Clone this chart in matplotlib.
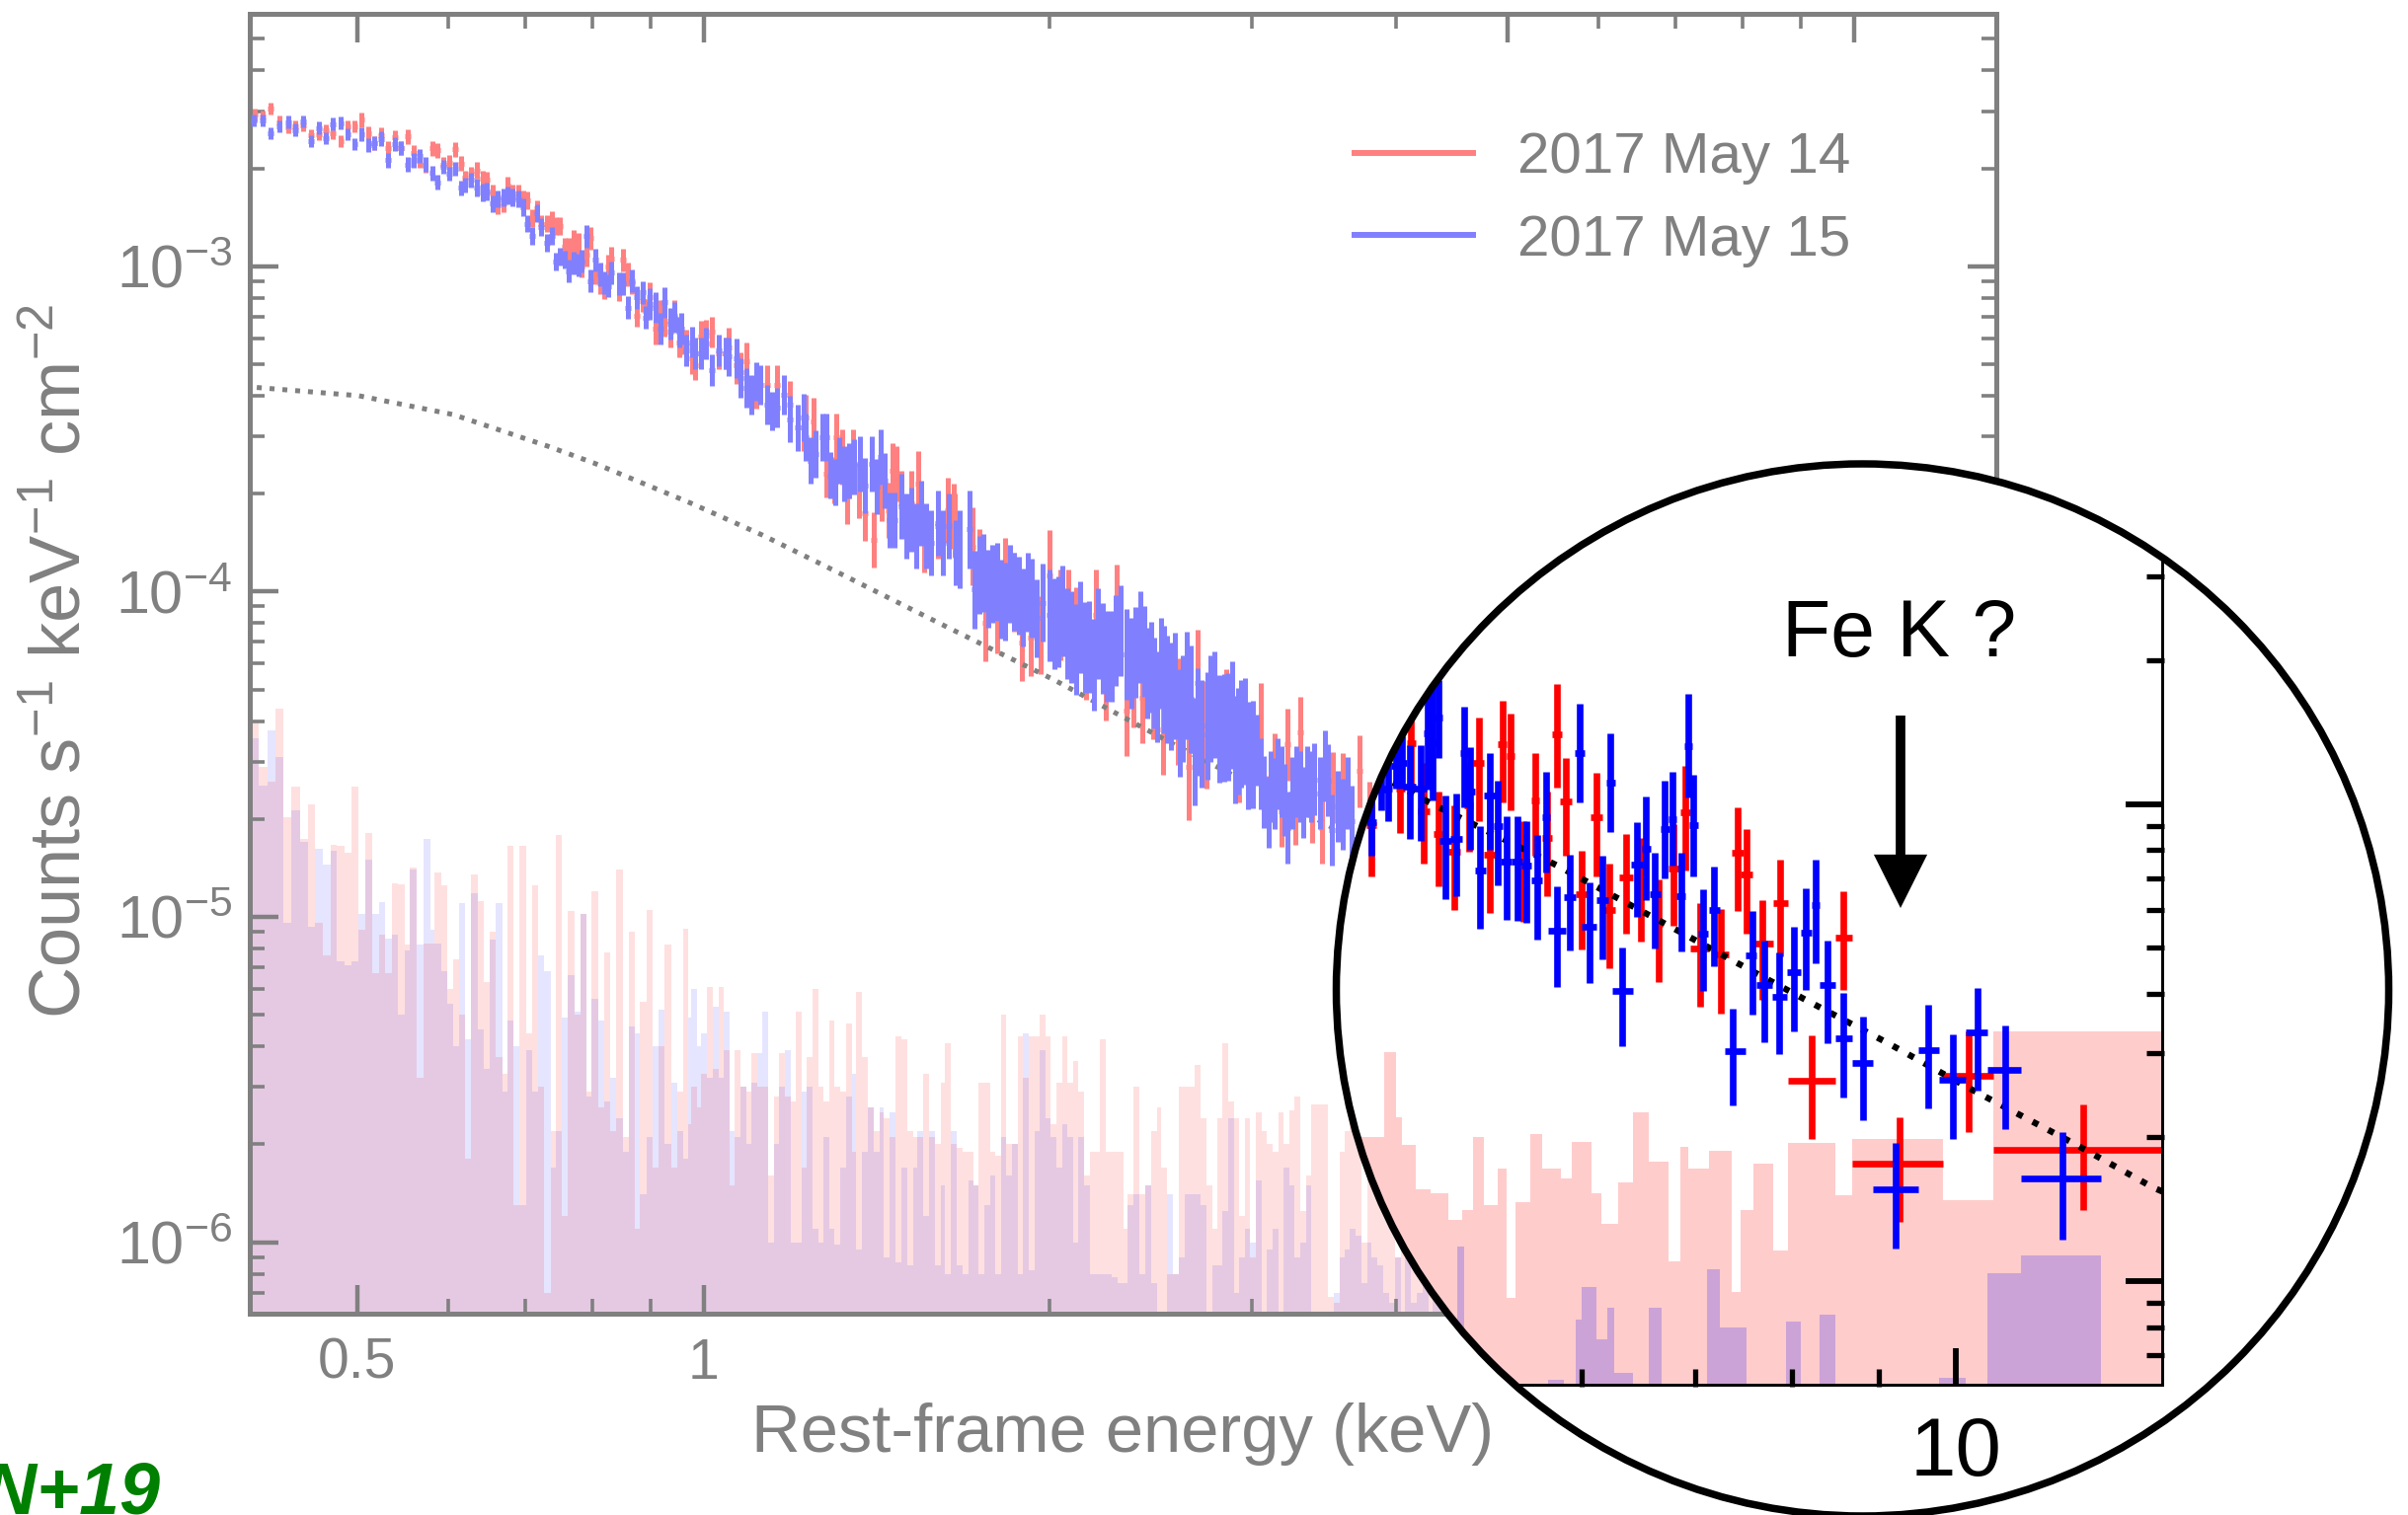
import numpy as np
import matplotlib
matplotlib.use("Agg")
import matplotlib.pyplot as plt
from matplotlib.patches import Circle
from matplotlib.ticker import NullFormatter

plt.rcParams['font.family'] = ['Liberation Sans', 'DejaVu Sans']
plt.rcParams['mathtext.fontset'] = 'custom'
plt.rcParams['mathtext.rm'] = 'Liberation Sans'
plt.rcParams['mathtext.it'] = 'Liberation Sans:italic'
plt.rcParams['mathtext.default'] = 'regular'

# ---------- main spectrum, log10(keV) and log10(counts/s/keV/cm2) ----------
red_log_e = [-.390,-.383,-.376,-.369,-.361,-.355,-.348,-.341,-.334,-.328,-.322,-.315,-.309,-.303,-.297,-.291,-.286,-.280,-.274,-.268,-.263,-.257,-.252,-.247,-.242,-.236,-.231,-.226,-.221,-.216,-.211,-.207,-.202,-.197,-.192,-.188,-.183,-.179,-.174,-.170,-.166,-.161,-.157,-.153,-.149,-.145,-.141,-.136,-.132,-.128,-.125,-.121,-.117,-.113,-.109,-.106,-.102,-.098,-.094,-.090,-.086,-.083,-.080,-.073,-.070,-.066,-.062,-.058,-.053,-.050,-.047,-.042,-.037,-.034,-.029,-.025,-.021,-.019,-.015,-.010,-.007,-.002,.002,.007,.013,.019,.022,.029,.032,.037,.046,.055,.064,.075,.087,
 .089,.0953,.1068,.1134,.1154,.1205,.1248,.1297,.1348,.1406,.1477,.1549,.1606,.1640,.1677,.172,.1806,.1863,.1921,.2035,.2127,.2178,
 .2184,.2338,.2395,.2453,.2549,.2625,.2702,.2767,.2844,.2932,.3008,.3104,.3169,.3238,.3323,.3411,.3499,.3591,.3679,.3737,.3813,.3909,.3997,.4120,.4216,.4293,.4369,.4542,.4657,.4841,.4917,.4963,.5021,.5078,.5147,.5186,.5289,.5373,.5469,.5558,.5703,.5787]
red_log_f = [-2.535,-2.540,-2.515,-2.557,-2.573,-2.570,-2.567,-2.598,-2.594,-2.583,-2.591,-2.616,-2.570,-2.570,-2.550,-2.591,-2.621,-2.596,-2.636,-2.604,-2.636,-2.601,-2.651,-2.676,-2.692,-2.638,-2.644,-2.687,-2.681,-2.641,-2.684,-2.727,-2.717,-2.705,-2.732,-2.735,-2.777,-2.813,-2.808,-2.752,-2.777,-2.777,-2.793,-2.798,-2.853,-2.823,-2.869,-2.869,-2.858,-2.877,-2.877,-2.939,-2.949,-2.924,-2.934,-3.000,-2.965,-2.914,-3.020,-3.051,-3.066,-3.000,-2.975,-3.071,-2.980,-3.025,-3.051,-3.152,-3.106,-3.136,-3.096,-3.192,-3.152,-3.167,-3.202,-3.152,-3.233,-3.222,-3.243,-3.283,-3.303,-3.217,-3.212,-3.202,-3.268,-3.268,-3.248,-3.303,-3.324,-3.293,-3.379,-3.364,-3.364,-3.425,-3.496,
 -3.466,-3.476,-3.638,-3.658,-3.526,-3.587,-3.708,-3.587,-3.688,-3.759,-3.840,-3.698,-3.749,-3.628,-3.638,-3.729,-3.729,-3.668,-3.840,-3.800,-3.749,-3.769,
 -3.797,-3.861,-3.927,-4.095,-4.071,-3.954,-4.002,-4.156,-4.140,-4.135,-3.951,-4.071,-4.073,-4.126,-4.193,-4.073,-4.257,-4.057,-4.366,-4.279,-4.326,-4.313,-4.424,-4.369,-4.539,-4.281,-4.440,-4.403,-4.483,-4.392,-4.675,-4.545,-4.675,-4.470,-4.669,-4.433,-4.662,-4.726,-4.603,-4.605,-4.552,-4.694]

blue_log_e = [-.391,-.383,-.376,-.369,-.361,-.355,-.348,-.341,-.334,-.328,-.322,-.315,-.309,-.303,-.297,-.291,-.286,-.280,-.274,-.268,-.263,-.257,-.252,-.247,-.242,-.236,-.231,-.226,-.221,-.216,-.211,-.207,-.202,-.197,-.192,-.188,-.183,-.179,-.174,-.170,-.166,-.161,-.157,-.153,-.149,-.145,-.141,-.136,-.132,-.128,-.125,-.121,-.117,-.113,-.109,-.106,-.102,-.098,-.094,-.090,-.086,-.083,-.080,-.073,-.070,-.066,-.062,-.058,-.053,-.050,-.047,-.042,-.037,-.034,-.029,-.025,-.021,-.019,-.015,-.010,-.007,-.002,.002,.007,.013,.019,.022,.029,.032,.037,.042,.046,.049,.055,.060,.064,.070,.075,.082,.087,
 .089,.0933,.0976,.1033,.1068,.1105,.1148,.1177,.122,.1262,.1305,.1363,.1406,.1463,.1506,.1543,.1577,.162,.1663,.172,.1763,.1806,.1849,.1892,.1935,.1978,.2035,.2078,.2135,.2193,
 .2223,.2311,.2357,.2434,.2510,.2587,.2663,.2740,.2817,.2893,.2951,.3008,.3085,.3162,.3238,.3315,.3392,.3468,.3545,.3622,.3679,.3756,.3832,.3890,.3947,.4005,.4063,.4139,.4197,.4266,.4331,.4381,.4438,.4484,.4561,.4618,.4676,.4733,.4810,.4867,.4914,.4963,.5021,.5078,.5155,.5212,.5251,.5308,.5404,.5461,.5558,.5634,
 .2395,.2472,.2549,.2625,.2702,.2778,.2855,.3047,.3123,.3200,.3277,.3353,.3430,.3507,.3583,.3717,.3794,.3859,.3920,.3978,.4032,.4101,.4166,.4235,.4293,.4408,.4523,.4592,.4649,.4707,.4772,.4841,.4933,.4990,.5048,.5117,.5186,.5282,.5358,.5431,.5511,.5596]
blue_log_f = [-2.552,-2.552,-2.591,-2.570,-2.557,-2.581,-2.555,-2.616,-2.575,-2.606,-2.563,-2.560,-2.594,-2.624,-2.594,-2.628,-2.621,-2.608,-2.674,-2.624,-2.636,-2.687,-2.674,-2.661,-2.687,-2.714,-2.742,-2.694,-2.715,-2.701,-2.759,-2.750,-2.735,-2.759,-2.773,-2.769,-2.808,-2.793,-2.788,-2.783,-2.788,-2.793,-2.818,-2.869,-2.907,-2.838,-2.879,-2.927,-2.907,-2.985,-2.970,-2.980,-3.015,-2.990,-2.995,-2.985,-2.907,-3.046,-2.980,-3.025,-3.051,-3.061,-3.020,-3.053,-3.053,-3.127,-3.046,-3.096,-3.081,-3.157,-3.116,-3.127,-3.192,-3.111,-3.177,-3.157,-3.202,-3.192,-3.258,-3.233,-3.268,-3.268,-3.238,-3.319,-3.258,-3.268,-3.278,-3.283,-3.344,-3.374,-3.395,-3.354,-3.364,-3.425,-3.445,-3.435,-3.395,-3.470,-3.496,-3.465,
 -3.526,-3.597,-3.577,-3.526,-3.526,-3.643,-3.663,-3.597,-3.638,-3.628,-3.618,-3.607,-3.673,-3.607,-3.678,-3.587,-3.658,-3.779,-3.779,-3.739,-3.800,-3.779,-3.830,-3.759,-3.830,-3.850,-3.789,-3.850,-3.800,-3.880,
 -3.871,-3.808,-3.994,-3.943,-3.975,-4.023,-3.975,-4.012,-4.002,-4.082,-4.034,-4.073,-4.092,-4.130,-4.177,-4.172,-4.225,-4.174,-4.199,-4.121,-4.193,-4.188,-4.183,-4.233,-4.323,-4.270,-4.323,-4.403,-4.289,-4.491,-4.438,-4.412,-4.348,-4.422,-4.417,-4.486,-4.438,-4.504,-4.488,-4.616,-4.678,-4.621,-4.584,-4.726,-4.584,-4.648,-4.584,-4.577,-4.536,-4.733,-4.685,-4.706,
 -3.95,-3.99,-3.97,-4.03,-4.00,-4.05,-4.02,-4.10,-4.06,-4.14,-4.11,-4.17,-4.13,-4.20,-4.15,-4.22,-4.14,-4.25,-4.28,-4.22,-4.30,-4.29,-4.36,-4.33,-4.40,-4.36,-4.42,-4.38,-4.46,-4.43,-4.50,-4.56,-4.60,-4.56,-4.64,-4.62,-4.60,-4.60,-4.62,-4.58,-4.66,-4.62]

# half length of the error bars (dex), by log10(energy) band
err_band_upper = [-.30,-.20,-.12,-.05,.02,.07,.12,.17,.22,.30,.40,.48,.70]
err_band_dex = [.019,.022,.027,.035,.048,.060,.072,.085,.100,.120,.140,.165,.110]

# ---------- model curve ----------
model_kev = [.409,.5015,.606,.732,.804,.975,1.126,1.293,1.633,2.018,2.58,3.04,3.41,4.89,5.8,6.76,7.42,8.13,9.12,10.2,11.73,13.1,13.5]
model_rate = [4.24e-4,4.0e-4,3.5e-4,2.8e-4,2.48e-4,1.87e-4,1.49e-4,1.17e-4,7.74e-5,5.35e-5,3.35e-5,2.48e-5,2.0e-5,1.0e-5,7.43e-6,5.55e-6,4.64e-6,3.9e-6,3.15e-6,2.53e-6,1.95e-6,1.57e-6,1.5e-6]

# ---------- main backgrounds: log10(keV) bin edges, rate in 1e-6 ----------
bg_log_edges = [-.393,-.387,-.379,-.372,-.365,-.358,-.351,-.344,-.338,-.331,-.324,-.319,-.312,-.306,-.300,-.294,-.288,-.282,-.277,-.271,-.266,-.260,-.255,-.249,-.243,-.237,-.234,
 -.228,-.223,-.218,-.212,-.207,-.202,-.196,-.191,-.186,-.181,-.175,-.170,-.165,-.160,-.154,-.149,-.144,-.139,-.133,-.128,-.123,-.118,-.112,-.107,-.102,-.097,-.091,-.086,-.081,-.076,-.070,-.065,-.060,-.055,-.049,-.044,-.039,-.034,-.028,-.023,-.018,-.013,
 -.011,-.006,-.002,.003,.008,.013,.018,.023,.027,.032,.037,.042,.047,.051,.056,.061,.066,.071,.076,.080,.085,.090,.095,.100,.104,.109,.114,.119,.124,.129,.133,.138,.143,.148,.153,.157,.162,.167,.172,.177,.182,.186,.191,.196,.201,.206,.210,.215,.220,.225,.230,.235,.239,.244,.249,.254,.259,.263,.268,.273,.278,.283,.288,.292,.297,.302,.307,.312,.316,.321,.326,.331,.336,.341,.345,.350,.355,.360,.365,.369,.374,.379,.384,.389,.394,.398,.403,.408,.413,.418,.422,.427,.432,.437,.442,.447,.451,.456,.461,.466,.471,.475,.480,.485,.490,.495,.500,.504,.509,.514,.519,.524,.528,.533,.538,.543,.548,.553,.557,.562,.567,.572,.577,.581,.586,.591,.596,.601,.606,.610,.615,.620,.625,.630,.634,.639,.644,.649]
bg_red = [39.6,28.9,26,43.7,20.3,25.1,17.4,22.2,9.6,7.6,16.6,16.5,15.7,25.2,9.1,18.1,6.7,8.8,6.7,12.7,12.6,8.2,14.2,3.2,8.3,8.3,13.7,
 12.5,6.0,7.4,5.0,1.8,13.5,11.2,6.3,9.0,3.7,3.3,16.5,1.3,16.5,4.4,12.5,3.0,.7,2.2,17.8,1.2,10.4,5.0,10.2,2.9,12.0,2.6,7.8,2.2,14.0,2.1,9.0,1.1,5.5,10.5,1.7,4.0,8.2,1.7,2.9,9.2,2.3,
 3.0,2.6,3.3,6.1,3.4,6.1,3.9,1.5,3.9,3.0,2.9,3.8,3.0,3.0,1.6,2.8,3.8,2.8,2.7,5.1,1.7,3.7,6.0,3.0,2.7,4.8,3.0,2.9,4.7,1.9,5.9,3.7,2.6,2.2,2.5,2.4,2.1,4.3,
 4.2,2.2,2.1,2.1,3.3,2.1,2.0,3.1,4.1,2.0,1.95,1.9,1.9,1.5,3.1,3.1,1.9,1.85,5.0,2.0,2.0,4.3,3.2,4.3,4.3,5.0,4.3,2.3,3.1,4.3,3.1,3.6,2.9,1.6,1.9,1.9,4.2,1.9,1.9,1.9,1.1,1.4,3.0,1.4,1.5,2.2,2.6,1.7,.8,.8,3.0,3.0,3.0,3.5,2.4,1.5,1.1,2.4,4.1,2.7,2.4,1.2,2.4,.9,2.5,2.2,2.0,1.9,2.5,2.0,2.55,2.8,1.25,1.6,2.65,2.65,2.65,.68,.65,1.9,2.2,3.0,
 3.0,1.0,2.7,1.7,2.6,2.4,1.4,.9,1.6,1.0,.9,2.0,1.1,.8,1.7,1.3,1.0]
bg_blue = [35.4,25.4,37.5,31.1,9.6,21.3,17,9.3,16.2,14.5,16,7.3,7.1,7.3,10.2,15,10.2,11.1,8.6,8.8,5,7.9,14,8.2,17.4,9.1,8.3,
 6.8,5.4,4.0,11,4.2,11.8,4.5,3.4,8.5,11,2.9,4.8,4.0,1.3,3.9,2.9,7.6,6.8,1.7,2.2,4.9,6.6,5.1,10.2,2.8,5.6,4.8,2.7,3.2,2.4,1.9,4.6,4.4,1.4,2.1,4.0,5.2,2.0,3.1,2.2,1.8,4.9,
 6.0,4.0,4.4,3.2,5.3,3.2,5.1,2.2,2.1,3.0,2.0,3.1,3.8,5.1,1.0,2.0,3.0,3.9,1.0,1.0,2.9,3.0,1.1,1.0,2.1,1.1,.98,1.7,2.8,3.3,.95,1.9,2.6,1.9,2.6,.9,2.5,.87,
 1.7,.85,1.7,2.2,1.2,2.2,.85,1.5,.8,2.2,.85,.8,1.55,1.5,.8,1.3,1.6,.8,2.1,1.6,2.0,.8,4.4,.82,2.2,3.9,2.4,2.1,1.7,2.3,2.1,1.0,2.1,1.5,.8,.8,.8,.8,.78,.75,.75,1.3,1.4,.8,1.5,.75,.5,.6,1.4,.8,.9,1.4,1.4,1.4,1.3,.3,.85,.85,1.25,2.4,.7,.9,1.1,1.0,1.55,.5,.95,1.1,.55,1.7,1.5,.9,1.0,1.5,.5,.55,.5,.45,.7,.9,.95,1.1,
 1.05,.75,1.0,.9,.85,.7,.65,.9,.6,.9,.65,.7,.8,.6,.7,.7,.6]

# ---------- inset points: keV, rate / upper / lower in 1e-6 ----------
ins_red_kev = [4.50,4.68,4.75,4.83,4.93,5.04,5.14,5.21,5.29,5.38,5.44,5.54,5.63,5.72,5.80,5.87,6.00,6.12,6.23,6.37,6.50,6.66,6.80,6.91,7.05,7.25,7.42,7.51,7.68,7.87,8.21,8.58,9.26,10.18,11.9]
ins_red_lo_kev = [4.47,4.65,4.72,4.79,4.90,5.00,5.11,5.17,5.25,5.35,5.41,5.50,5.60,5.68,5.76,5.82,5.95,6.07,6.18,6.31,6.45,6.62,6.75,6.86,6.96,7.17,7.36,7.45,7.57,7.79,7.95,8.49,8.68,9.83,10.53]
ins_red_hi_kev = [4.53,4.71,4.78,4.87,4.96,5.08,5.17,5.25,5.33,5.41,5.47,5.58,5.66,5.76,5.84,5.92,6.05,6.17,6.28,6.43,6.55,6.70,6.85,6.96,7.14,7.33,7.48,7.57,7.79,7.95,8.49,8.68,9.83,10.53,14.0]
ins_red_rate = [9.02,10.8,13.4,9.66,8.67,7.94,9.92,12.2,7.84,13.35,12.6,7.57,10.2,8.49,14,10.15,6.48,9.37,6.01,7.02,6.67,5.6,7.34,9.61,4.98,4.84,7.92,7.11,5.09,6.20,2.63,5.25,1.76,2.69,1.88]
ins_red_up = [11.3,13.2,15,12.2,10.6,9.92,12.2,15.2,10.4,16.5,15.5,9.2,12.8,10.6,17.9,12.5,7.98,11.65,7.5,8.67,8.49,6.94,9.09,12,6.19,6.03,9.84,8.85,6.30,7.64,3.27,6.55,2.20,3.34,2.34]
ins_red_dn = [7.05,8.71,10.6,7.5,6.71,6.01,7.94,9.2,5.9,10.1,9.7,5.65,7.81,6.41,10.85,7.78,4.96,7.05,4.52,5.35,5.15,4.23,5.55,7.24,3.76,3.63,5.97,5.34,3.88,4.80,1.98,4.08,1.33,2.05,1.41]

ins_blue_kev = [4.50,4.56,4.60,4.65,4.69,4.74,4.81,4.86,4.89,4.93,4.98,5.05,5.11,5.15,5.22,5.29,5.35,5.41,5.49,5.56,5.64,5.71,5.80,5.90,5.98,6.06,6.17,6.24,6.34,6.47,6.55,6.63,6.72,6.79,6.87,6.94,6.99,7.08,7.19,7.37,7.57,7.70,7.86,8.02,8.15,8.26,8.39,8.58,8.81,9.21,9.63,9.96,10.3,10.7,11.57]
ins_blue_lo_kev = [4.47,4.53,4.57,4.62,4.66,4.70,4.77,4.83,4.86,4.90,4.94,5.01,5.08,5.12,5.18,5.25,5.32,5.37,5.45,5.52,5.60,5.68,5.73,5.85,5.94,6.00,6.12,6.20,6.25,6.42,6.51,6.58,6.68,6.75,6.83,6.90,6.95,7.03,7.14,7.29,7.50,7.62,7.78,7.94,8.09,8.21,8.30,8.48,8.68,8.93,9.50,9.77,10.14,10.45,10.94]
ins_blue_hi_kev = [4.53,4.59,4.63,4.68,4.72,4.78,4.85,4.89,4.92,4.96,5.02,5.09,5.14,5.18,5.26,5.33,5.38,5.45,5.53,5.60,5.68,5.74,5.87,5.95,6.02,6.12,6.22,6.28,6.43,6.52,6.59,6.68,6.76,6.83,6.91,6.98,7.03,7.13,7.24,7.50,7.62,7.78,7.94,8.09,8.21,8.30,8.48,8.68,8.93,9.50,9.77,10.14,10.45,10.94,12.2]
ins_blue_rate = [9.16,10.7,10.8,12,12.2,10.9,10.8,14.1,13.4,15.2,8.36,8.46,12.8,10.6,7.24,10.4,9,7.57,7.57,7.43,6.92,9.39,5.42,6.39,12.8,5.53,6.28,11.1,4.05,7.48,8.06,6.46,8.88,9.31,6.41,13.2,9.02,5.35,6,3.03,4.81,4.17,3.94,4.44,5.37,6.15,4.17,3.22,2.87,1.56,3.05,2.64,3.32,2.77,1.64]
ins_blue_up = [11.2,12.2,12.6,14,13.9,13.3,13.3,17,17.9,18.2,10.4,10.5,16,13.15,9,12.8,11.2,9.41,9.41,9.22,8.6,11.7,6.72,7.84,16.2,6.84,7.81,14.1,5.0,9.16,10.35,7.92,11.2,11.7,7.89,17,11.5,6.64,7.4,3.73,5.98,5.18,4.89,5.52,6.67,7.64,5.18,4.01,3.58,1.95,3.80,3.29,4.11,3.44,2.05]
ins_blue_dn = [7.81,9.72,9.2,10.8,10.8,8.46,8.36,10.7,10.2,12.5,6.31,6.41,9.84,8,5.48,8.03,6.77,5.71,5.69,5.63,5.2,7.2,4.14,4.92,10.1,4.21,4.73,8.73,3.11,5.8,6.28,4.97,6.97,7.42,4.91,10.3,7.04,4.05,4.57,2.33,3.62,3.16,2.99,3.34,4.07,4.64,3.15,2.43,2.17,1.17,2.30,1.98,2.51,2.08,1.22]

# inset backgrounds: keV edges, rate in 1e-6
ins_bg_red_edges = [4.25,4.58,4.65,4.69,4.78,4.88,5.0,5.09,5.17,5.25,5.35,5.41,5.48,5.59,5.68,5.83,5.92,6.08,6.16,6.30,6.43,6.57,6.75,6.86,6.94,7.14,7.36,7.45,7.58,7.79,7.95,8.49,8.68,9.83,10.53,14.0]
ins_bg_red = [2.0,3.02,2.2,1.93,1.56,1.53,1.34,1.41,2.0,1.44,1.72,.92,1.46,2.03,1.72,1.64,1.96,1.53,1.32,1.61,2.26,1.78,1.10,1.91,1.72,1.87,.95,1.41,1.76,1.16,1.95,1.51,1.98,1.48,3.33]
ins_bg_blue_edges = [5.06,5.11,5.73,5.85,5.95,6.0,6.12,6.21,6.27,6.43,6.57,6.69,7.12,7.24,7.51,7.93,8.09,8.30,8.48,9.77,10.14,10.45,10.94,12.2]
ins_bg_blue = [1.18,.1,.62,.1,.83,.97,.755,.88,.64,.1,.88,.1,1.06,.80,.1,.82,.1,.85,.1,.627,.1,1.04,1.13]

legend_labels = ['2017 May 14', '2017 May 15']
x_tick_labels = ['0.5', '1']
y_tick_values = [1e-6, 1e-5, 1e-4, 1e-3]
y_tick_labels = ['10$^{-6}$', '10$^{-5}$', '10$^{-4}$', '10$^{-3}$']

# ---------- layout ----------
W, H = 2439, 1535
GRAY = '#808080'
fig = plt.figure(figsize=(W / 100, H / 100), dpi=100, facecolor='white')


def box(l, t, r, b):
    return [l / W, 1 - b / H, (r - l) / W, (b - t) / H]


def err_for(log_e):
    idx = np.searchsorted(err_band_upper, log_e)
    return np.array(err_band_dex)[np.clip(idx, 0, len(err_band_dex) - 1)]


def draw_main(ax, log_e, log_f, color, z):
    log_e = np.array(log_e)
    log_f = np.array(log_f)
    n = min(len(log_e), len(log_f))
    log_e, log_f = log_e[:n], log_f[:n]
    d = err_for(log_e)
    x, y = 10.0 ** log_e, 10.0 ** log_f
    ax.errorbar(x, y, yerr=[y - 10 ** (log_f - d), 10 ** (log_f + d) - y],
                xerr=[x - 10 ** (log_e - .0025), 10 ** (log_e + .0025) - x],
                fmt='none', ecolor=color, elinewidth=3.6, capsize=0, zorder=z)


ax = fig.add_axes(box(253.5, 14, 2022, 1331))
ax.set_xscale('log')
ax.set_yscale('log')
ax.set_xlim(.4037, 13.3)
ax.set_ylim(6.03e-7, 5.97e-3)

edges = 10.0 ** np.array(bg_log_edges)
nbins = len(edges) - 1
ax.stairs(np.array(bg_red[:nbins]) * 1e-6, edges[:len(bg_red[:nbins]) + 1], fill=True, color='#ff0000', alpha=.12, lw=0, baseline=1e-8, zorder=1)
ax.stairs(np.array(bg_blue[:nbins]) * 1e-6, edges[:len(bg_blue[:nbins]) + 1], fill=True, color='#0000ff', alpha=.10, lw=0, baseline=1e-8, zorder=1.1)

draw_main(ax, red_log_e, red_log_f, '#ff8080', 2)
ax.plot(model_kev, model_rate, color=GRAY, lw=3.6, ls=(0, (1, 1.6)), dash_capstyle='butt', zorder=2.5)
draw_main(ax, blue_log_e, blue_log_f, '#8080ff', 3)

for sp in ax.spines.values():
    sp.set_color(GRAY)
    sp.set_linewidth(3.6)
ax.set_xticks([.5, 1, 5, 10], labels=x_tick_labels + ['', ''])
ax.set_xticks([.6, .7, .8, .9, 2, 3, 4, 6, 7, 8, 9], minor=True)
ax.xaxis.set_minor_formatter(NullFormatter())
ax.set_yticks(y_tick_values, labels=y_tick_labels)
ax.set_yticks([m * 10.0 ** p for p in range(-7, -2) for m in range(2, 10)
               if 6.03e-7 < m * 10.0 ** p < 5.97e-3], minor=True)
ax.yaxis.set_minor_formatter(NullFormatter())
ax.tick_params(which='major', direction='in', top=True, right=True, length=21, width=3.2, color=GRAY, labelcolor=GRAY)
ax.tick_params(which='minor', direction='in', top=True, right=True, length=10.5, width=2.6, color=GRAY)
ax.tick_params(axis='x', which='major', pad=17, labelsize=41)
ax.tick_params(axis='y', which='major', pad=13, labelsize=44)

handles = [plt.Line2D([], [], color='#ff8080', lw=4.3), plt.Line2D([], [], color='#8080ff', lw=4.3)]
ax.legend(handles, legend_labels, loc='upper left', bbox_to_anchor=(1372 / W, 1 - 133 / H),
          bbox_transform=fig.transFigure, frameon=False, fontsize=42, labelcolor=GRAY,
          handlelength=2.05, handletextpad=.78, labelspacing=.51, borderpad=0, borderaxespad=0)

fig.text(62 / W, 1 - 670 / H, 'Counts s$^{-1}$ keV$^{-1}$ cm$^{-2}$', rotation=90, ha='center', va='center', color=GRAY, fontsize=52)
fig.text(1137 / W, 1 - 1453 / H, 'Rest-frame energy (keV)', ha='center', va='center', color=GRAY, fontsize=49.5)
fig.text(163 / W, 1 - 1533 / H, 'TN+19', ha='right', va='baseline', color='#008000', fontsize=53, fontweight='bold', fontstyle='italic')

# white disc under the magnified view
disc_ax = fig.add_axes([0, 0, 1, 1], zorder=5)
disc_ax.set_xlim(0, W)
disc_ax.set_ylim(H, 0)
disc_ax.axis('off')
disc_ax.patch.set_visible(False)
disc = Circle((1886.5, 1003), 533, facecolor='white', edgecolor='none')
disc_ax.add_patch(disc)

# magnified view
axi = fig.add_axes(box(1353, 568, 2192, 1405), zorder=6)
axi.patch.set_visible(False)
axi.set_xscale('log')
axi.set_yscale('log')
axi.set_xlim(4.285, 13.3)
axi.set_ylim(6.0e-7, 3.24e-5)
axi.stairs(np.array(ins_bg_red) * 1e-6, ins_bg_red_edges, fill=True, color='#ff0000', alpha=.2, lw=0, baseline=1e-8, zorder=1)
axi.stairs(np.array(ins_bg_blue) * 1e-6, ins_bg_blue_edges, fill=True, color='#0000ff', alpha=.2, lw=0, baseline=1e-8, zorder=1.1)


def draw_inset(kev, lo, hi, rate, up, dn, color, z):
    k, r = np.array(kev), np.array(rate) * 1e-6
    axi.errorbar(k, r, xerr=[k - np.array(lo), np.array(hi) - k],
                 yerr=[r - np.array(dn) * 1e-6, np.array(up) * 1e-6 - r],
                 fmt='none', ecolor=color, elinewidth=4.8, capsize=0, zorder=z)


draw_inset(ins_red_kev, ins_red_lo_kev, ins_red_hi_kev, ins_red_rate, ins_red_up, ins_red_dn, '#ff0000', 2)
axi.plot(model_kev, model_rate, color='black', lw=4.6, ls=(0, (1, 1.8)), dash_capstyle='butt', zorder=2.5)
draw_inset(ins_blue_kev, ins_blue_lo_kev, ins_blue_hi_kev, ins_blue_rate, ins_blue_up, ins_blue_dn, '#0000ff', 3)

axi.spines['top'].set_visible(False)
axi.spines['left'].set_visible(False)
axi.spines['right'].set_linewidth(5)
axi.spines['bottom'].set_linewidth(5)
axi.set_xticks([10], labels=['10'])
axi.set_xticks([6, 7, 8, 9], minor=True)
axi.xaxis.set_minor_formatter(NullFormatter())
axi.yaxis.tick_right()
axi.set_yticks([1e-6, 1e-5], labels=['', ''])
axi.set_yticks([7e-7, 8e-7, 9e-7, 2e-6, 3e-6, 4e-6, 5e-6, 6e-6, 7e-6, 8e-6, 9e-6, 2e-5, 3e-5], minor=True)
axi.yaxis.set_minor_formatter(NullFormatter())
axi.tick_params(which='major', direction='in', length=28, width=4.2, labelsize=60, colors='black')
axi.tick_params(which='minor', direction='in', length=13, width=3.8)
axi.tick_params(axis='x', which='major', pad=21)

for child in axi.get_children():
    if child in (axi.xaxis, axi.yaxis, axi.patch) or isinstance(child, matplotlib.text.Text):
        continue
    child.set_clip_path(disc)

# circle outline and annotation on top
over = fig.add_axes([0, 0, 1, 1], zorder=10)
over.set_xlim(0, W)
over.set_ylim(H, 0)
over.axis('off')
over.patch.set_visible(False)
over.add_patch(Circle((1886.5, 1003), 533, facecolor='none', edgecolor='black', linewidth=5.4))
over.text(1924, 644, 'Fe K ?', ha='center', va='center', fontsize=58, color='black')
over.annotate('', xy=(1925, 920), xytext=(1925, 725),
              arrowprops=dict(facecolor='black', edgecolor='none', width=7, headwidth=39, headlength=39, shrink=0))

fig.savefig('out.png', dpi=100)
